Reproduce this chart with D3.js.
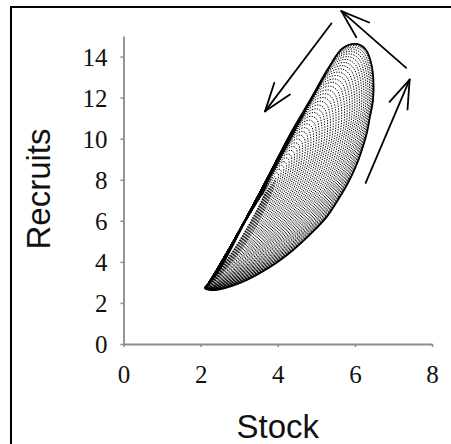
<!DOCTYPE html>
<html>
<head>
<meta charset="utf-8">
<script src="https://cdn.jsdelivr.net/npm/d3@7"></script>
<style>
  html, body { margin: 0; padding: 0; background: #fff; }
  svg { display: block; }
</style>
</head>
<body>
<script>
// Axis ticks
const stockTicks = [0, 2, 4, 6, 8];
const recruitTicks = [0, 2, 4, 6, 8, 10, 12, 14];

// Outermost cycle of the stock–recruit trajectory (counter-clockwise from the low tip)
const outerStock    = [2.11, 2.37, 3.02, 3.80, 4.40, 4.88, 5.27, 5.56, 5.82, 6.02, 6.18, 6.31, 6.39, 6.47, 6.48, 6.42, 6.29, 6.05, 5.69, 5.33, 4.84, 4.34, 3.88, 3.44, 3.00, 2.48, 2.22];
const outerRecruits = [2.73, 2.63, 2.97, 3.75, 4.58, 5.41, 6.19, 7.01, 7.84, 8.62, 9.45, 10.28, 11.06, 11.88, 12.86, 13.69, 14.32, 14.61, 14.42, 13.49, 11.88, 10.28, 8.62, 7.01, 5.41, 3.60, 2.97];

// Equilibrium the cycles wind in towards
const equilibrium = { stock: 3.85, recruits: 7.0 };

// Relative size of each successive cycle
const cycleSize = [0.005, 0.012, 0.02, 0.03, 0.04, 0.05, 0.061, 0.072, 0.083, 0.095, 0.107, 0.12, 0.145, 0.17, 0.195, 0.22, 0.245, 0.27, 0.295, 0.32, 0.345, 0.37, 0.395, 0.42, 0.445, 0.47, 0.495, 0.52, 0.545, 0.57, 0.595, 0.62, 0.645, 0.67, 0.695, 0.72, 0.745, 0.768, 0.791, 0.813, 0.835, 0.856, 0.877, 0.897, 0.916, 0.934, 0.951, 0.966, 0.979, 0.99, 1.0];

// Direction arrows: [stock, recruits] start and end
const arrowStart = [[5.39, 15.61], [7.33, 13.45], [6.28, 7.85]];
const arrowEnd   = [[3.67, 11.33], [5.65, 16.21], [7.42, 12.88]];

const W = 451, H = 444;
const svg = d3.select("body").append("svg").attr("width", W).attr("height", H);

// Frame
svg.append("rect")
  .attr("x", 11).attr("y", 7)
  .attr("width", W + 20).attr("height", H + 20)
  .attr("fill", "none").attr("stroke", "#000").attr("stroke-width", 2);

const x = d3.scaleLinear().domain([0, 8]).range([123.5, 432]);
const y = d3.scaleLinear().domain([0, 15]).range([344, 36]);

// Axes
const axisColor = "#8c8c8c";
const xAxis = svg.append("g").attr("transform", `translate(0,${y(0)})`)
  .call(d3.axisBottom(x).tickValues(stockTicks).tickSize(3).tickSizeOuter(0).tickPadding(12));
const yAxis = svg.append("g").attr("transform", `translate(${x(0)},0)`)
  .call(d3.axisLeft(y).tickValues(recruitTicks).tickSize(3).tickSizeOuter(0).tickPadding(13));

[xAxis, yAxis].forEach(g => {
  g.select(".domain").attr("stroke", axisColor).attr("stroke-width", 1.8);
  g.selectAll(".tick line").attr("stroke", axisColor).attr("stroke-width", 1.5);
  g.selectAll(".tick text")
    .attr("fill", "#111")
    .style("font-family", "'Liberation Serif', 'Times New Roman', serif")
    .style("font-size", "25px");
});
xAxis.selectAll(".tick text").attr("dy", "0.95em");
yAxis.selectAll(".tick text").attr("dy", "0.34em");

// Outer cycle in screen space, described along its long axis (low tip -> peak)
const outer = outerStock.map((s, i) => [x(s), y(outerRecruits[i])]);
const lowTip = outer[0];
const peak = outer[d3.maxIndex(outerRecruits)];
const ax = [peak[0] - lowTip[0], peak[1] - lowTip[1]];
const axLen = Math.hypot(ax[0], ax[1]);
const ua = [ax[0] / axLen, ax[1] / axLen];   // along the long axis
const na = [-ua[1], ua[0]];                  // across it
const toUV = p => {
  const d = [p[0] - lowTip[0], p[1] - lowTip[1]];
  return [(d[0] * ua[0] + d[1] * ua[1]) / axLen, d[0] * na[0] + d[1] * na[1]];
};
const fromUV = (u, v) => [lowTip[0] + u * axLen * ua[0] + v * na[0],
                          lowTip[1] + u * axLen * ua[1] + v * na[1]];
const outerUV = outer.map(toUV);
const uEq = toUV([x(equilibrium.stock), y(equilibrium.recruits)])[0];

// Each cycle stays anchored near the low tip, its upper end shrinking toward the equilibrium
const cyclePoints = k => {
  const reach = uEq + (1 - uEq) * k;
  return outerUV.map(([u, v]) => fromUV(u * reach, v * (0.06 + 0.94 * k)));
};

const line = d3.line().curve(d3.curveCatmullRomClosed.alpha(0.5));

const cycles = svg.append("g");
cycles.selectAll("path.cycle")
  .data(cycleSize)
  .join("path")
  .attr("class", "cycle")
  .attr("d", k => line(cyclePoints(k)))
  .attr("fill", "none")
  .attr("stroke", "#000")
  .attr("stroke-width", 1)
  .attr("stroke-dasharray", "1.3,1.3");

// Outermost cycle drawn solid
cycles.append("path")
  .attr("d", line(outer))
  .attr("fill", "none")
  .attr("stroke", "#000")
  .attr("stroke-width", 1.8);

// Direction arrows
const arrows = svg.append("g").attr("stroke", "#000").attr("stroke-width", 1.8)
  .attr("fill", "none").attr("stroke-linecap", "round");
arrowStart.forEach((s, i) => {
  const e = arrowEnd[i];
  const x0 = x(s[0]), y0 = y(s[1]), x1 = x(e[0]), y1 = y(e[1]);
  const ang = Math.atan2(y0 - y1, x0 - x1);
  const len = 30, spread = 19 * Math.PI / 180;
  arrows.append("line").attr("x1", x0).attr("y1", y0).attr("x2", x1).attr("y2", y1);
  [-1, 1].forEach(sg => {
    arrows.append("line")
      .attr("x1", x1).attr("y1", y1)
      .attr("x2", x1 + len * Math.cos(ang + sg * spread))
      .attr("y2", y1 + len * Math.sin(ang + sg * spread));
  });
});

// Axis titles
svg.append("text")
  .attr("x", x(4)).attr("y", 438)
  .attr("text-anchor", "middle")
  .style("font-family", "'Liberation Sans', Arial, sans-serif")
  .style("font-size", "33px")
  .attr("fill", "#111")
  .text("Stock");

svg.append("text")
  .attr("transform", "translate(50,189) rotate(-90)")
  .attr("text-anchor", "middle")
  .style("font-family", "'Liberation Sans', Arial, sans-serif")
  .style("font-size", "33px")
  .attr("fill", "#111")
  .text("Recruits");
</script>
</body>
</html>
